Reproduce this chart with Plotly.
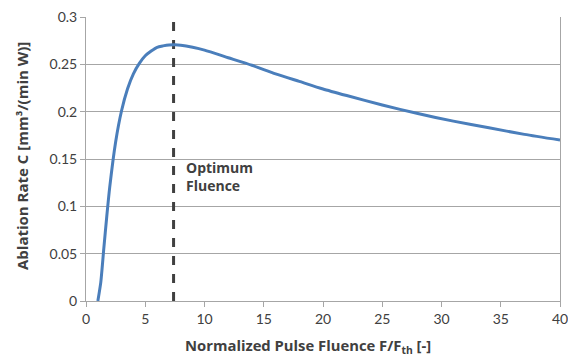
import plotly.graph_objects as go

# Normalized pulse fluence F/Fth and specific ablation rate C [mm^3/(min W)]
fluence = [1, 1.25, 1.5, 1.75, 2, 2.5, 3, 3.5, 4, 4.5, 5, 5.5, 6, 6.5, 7, 7.5, 8,
           9, 10, 12, 14, 16, 18, 20, 22, 25, 28, 31, 34, 37, 40]
ablation_rate = [0.0, 0.020, 0.055, 0.089, 0.120, 0.168, 0.201, 0.224, 0.240, 0.251,
                 0.259, 0.264, 0.268, 0.2695, 0.2705, 0.2707, 0.2702, 0.268, 0.265,
                 0.257, 0.249, 0.240, 0.232, 0.224, 0.217, 0.207, 0.198, 0.190,
                 0.183, 0.176, 0.170]

optimum_fluence = 7.39
x_ticks = [0, 5, 10, 15, 20, 25, 30, 35, 40]
y_ticks = [0, 0.05, 0.1, 0.15, 0.2, 0.25, 0.3]
y_tick_text = ["0", "0.05", "0.1", "0.15", "0.2", "0.25", "0.3"]

FONT = "Lato, 'Open Sans', sans-serif"
BOLD_FONT = "'Open Sans', Lato, sans-serif"
TEXT = "#404040"
GRID = "#a6a6a6"

W, H = 568, 356
L, R, T, B = 86, 8, 17, 55
PW, PH = W - L - R, H - T - B

fig = go.Figure()

# optimum fluence marker
fig.add_trace(go.Scatter(
    x=[optimum_fluence, optimum_fluence], y=[0, 0.3],
    mode="lines",
    line=dict(color="#404040", width=3, dash="dash"),
    hoverinfo="skip", showlegend=False,
))

# ablation rate curve
fig.add_trace(go.Scatter(
    x=fluence, y=ablation_rate,
    mode="lines",
    line=dict(color="#4a7ebb", width=3, shape="spline", smoothing=0.6),
    showlegend=False,
))

fig.update_layout(
    width=W, height=H,
    margin=dict(l=L, r=R, t=T, b=B, autoexpand=False),
    paper_bgcolor="white", plot_bgcolor="white",
    font=dict(family=FONT, size=14, color=TEXT),
    annotations=[
        dict(x=(308 - L) / PW, y=-(346 - (H - B)) / PH, xref="paper", yref="paper",
             text="<b>Normalized Pulse Fluence F/F<sub>th</sub> [-]</b>",
             showarrow=False, xanchor="center", yanchor="middle",
             font=dict(family=BOLD_FONT, size=14.8, color=TEXT)),
        dict(x=(22 - L) / PW, y=((H - B) - 156) / PH, xref="paper", yref="paper",
             text="<b>Ablation Rate C [mm³/(min W)]</b>", textangle=-90,
             showarrow=False, xanchor="center", yanchor="middle",
             font=dict(family=BOLD_FONT, size=15, color=TEXT)),
        dict(x=optimum_fluence, y=0.132, xref="x", yref="y",
             xshift=10, xanchor="left", yanchor="middle",
             text="<b>Optimum<br>Fluence</b>", align="left", showarrow=False,
             font=dict(family=BOLD_FONT, size=14, color=TEXT)),
    ],
)

fig.update_xaxes(
    range=[0, 40], tickvals=x_ticks, ticktext=[str(v) for v in x_ticks],
    showgrid=False, zeroline=False, automargin=False,
    showline=True, linecolor=GRID, linewidth=1,
    ticks="outside", ticklen=5, tickcolor=GRID,
    ticklabeloverflow="allow",
    tickfont=dict(family=FONT, size=14, color=TEXT),
)
fig.update_yaxes(
    range=[0, 0.3], tickvals=y_ticks, ticktext=y_tick_text,
    showgrid=True, gridcolor=GRID, gridwidth=1, zeroline=False, automargin=False,
    showline=True, linecolor=GRID, linewidth=1, mirror=True,
    ticks="outside", ticklen=5, tickcolor=GRID,
    tickfont=dict(family=FONT, size=14, color=TEXT),
)

fig.write_html("out.html")
